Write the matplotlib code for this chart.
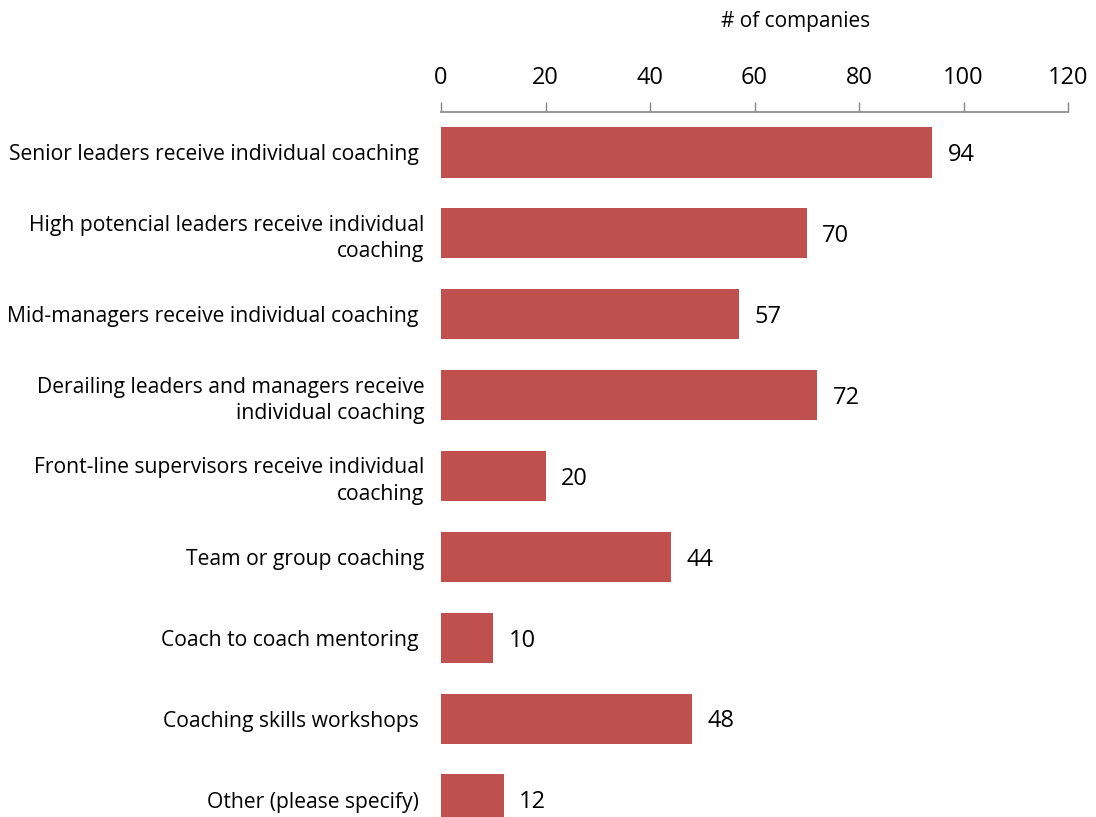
import numpy as np
import matplotlib.pyplot as plt

plt.rcParams['font.family'] = ['Open Sans', 'DejaVu Sans']

categories = [
    'Senior leaders receive individual coaching ',
    'High potencial leaders receive individual\ncoaching',
    'Mid-managers receive individual coaching ',
    'Derailing leaders and managers receive\nindividual coaching',
    'Front-line supervisors receive individual\ncoaching',
    'Team or group coaching',
    'Coach to coach mentoring ',
    'Coaching skills workshops ',
    'Other (please specify) ',
]
companies = [94, 70, 57, 72, 20, 44, 10, 48, 12]
ticks = [0, 20, 40, 60, 80, 100, 120]

fig = plt.figure(figsize=(10.96, 8.17), dpi=100)
ax = fig.add_axes([441 / 1096, -23 / 817, 627 / 1096, 728 / 817])

y = np.arange(len(categories))
ax.barh(y, companies, height=0.62, color='#C0504D')
for yi, v in zip(y, companies):
    ax.annotate(str(v), (v, yi), xytext=(11, -2), textcoords='offset points',
                va='center', ha='left', fontsize=17)

ax.set_xlim(0, 120)
ax.set_ylim(len(categories) - 0.5, -0.5)
ax.set_xticks(ticks)
ax.xaxis.tick_top()
ax.tick_params(axis='x', direction='out', length=7, width=1, color='#878787',
               labelsize=17, pad=9)
ax.set_yticks(y)
ax.set_yticklabels(categories, fontsize=15.2, ha='right', multialignment='right',
                   linespacing=1.35)
ax.tick_params(axis='y', length=0, pad=12)

for side in ['left', 'right', 'bottom']:
    ax.spines[side].set_visible(False)
ax.spines['top'].set_color('#878787')
ax.spines['top'].set_linewidth(1.2)

fig.text(796 / 1096, 1 - 22 / 817, '# of companies', ha='center', va='center',
         fontsize=15)

fig.savefig('out.png', dpi=100)
